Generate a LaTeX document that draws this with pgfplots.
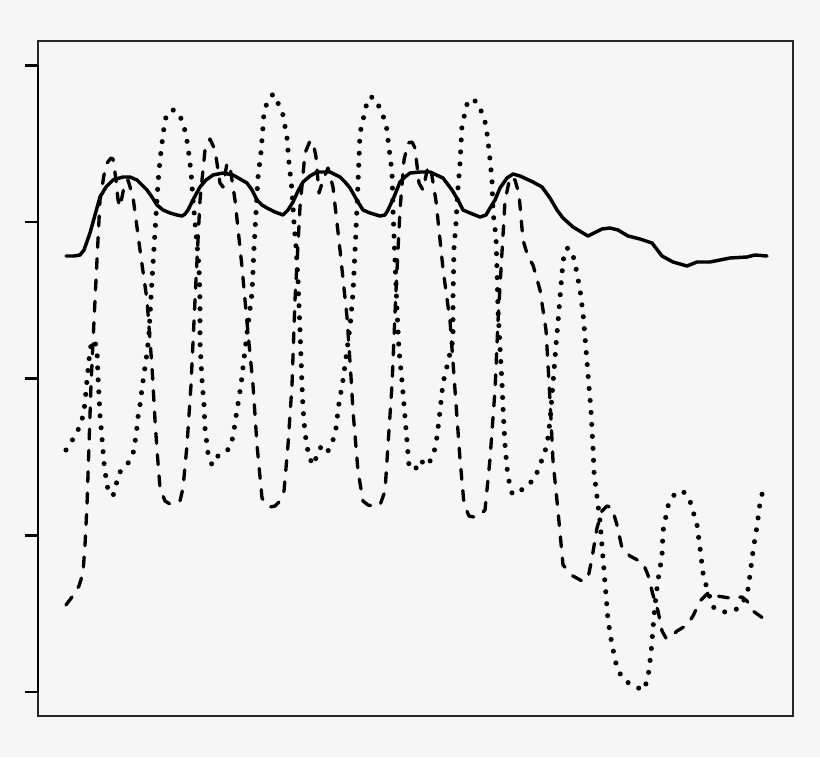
\documentclass[border=0pt]{standalone}
\usepackage{pgfplots}
\pgfplotsset{compat=1.18}
\definecolor{bgc}{gray}{0.965}

% series in picture units (x to the right, y downwards)
\pgfplotstableread{
x y
66 256
74 256
80 255
84 250
90 233
95 215
100 197
106 187
113 180
123 177
130 177
137 180
142 185
147 190
152 197
157 205
163 210
170 213
177 215
182 216
185 214
188 210
194 198
200 187
206 180
213 175
223 173
233 175
240 179
247 183
252 190
257 200
262 205
267 208
275 212
283 215
288 210
293 202
298 191
303 182
310 176
317 172
330 172
340 177
345 182
350 188
358 202
363 210
370 213
380 216
385 215
388 210
394 197
400 182
405 177
410 173
420 172
430 172
443 178
452 190
458 200
463 210
470 213
480 217
486 215
490 208
495 200
500 188
507 178
513 174
520 176
533 182
542 187
550 198
557 210
563 218
573 227
588 236
602 229
610 228
618 230
628 236
640 239
652 243
662 256
673 262
687 266
697 262
710 262
730 258
747 257
755 255
767 256
}\solid

\pgfplotstableread{
x y
66 605
72 597
79 586
83 573
85 545
87 505
89 445
91 385
95 300
100 200
104 175
107 163
111 158
113 159
116 180
118 200
120 207
123 192
125 182
128 180
133 197
140 250
147 300
152 367
155 420
157 450
160 488
165 501
170 504
175 503
180 501
183 488
187 445
191 385
195 300
200 200
205 150
210 139
215 150
218 170
220 183
223 187
227 163
230 167
235 200
242 267
248 333
253 385
257 445
262 498
266 504
270 507
275 506
279 502
284 491
288 445
292 385
295 300
300 207
305 153
310 141
313 142
316 157
319 193
323 180
328 168
333 187
340 250
347 317
351 377
353 411
358 471
363 501
368 505
373 506
380 505
385 491
388 445
392 385
396 290
400 210
404 160
408 143
412 142
415 148
419 183
423 190
428 166
431 170
436 201
443 269
450 321
455 390
460 459
464 504
469 516
474 517
480 515
485 510
490 459
495 390
498 321
502 252
505 201
510 177
515 180
519 194
523 240
528 257
533 265
540 290
546 330
550 400
553 461
558 511
563 565
573 576
582 581
588 578
592 558
597 528
602 511
607 506
612 508
617 525
622 548
630 556
643 563
648 575
653 595
658 611
662 631
666 638
670 638
677 631
687 625
693 616
700 601
708 593
717 596
730 598
742 597
747 601
753 611
767 621
}\dashed

\pgfplotstableread{
x y
66 450
73 439
79 428
83 416
85 403
87 380
89 360
91 345
93 340
95 342
97 350
98 377
100 415
102 438
104 463
107 486
110 493
113 496
116 485
119 473
127 465
133 454
136 436
138 417
140 405
143 381
147 353
149 333
152 280
155 232
158 183
160 160
163 135
165 120
168 112
173 110
178 112
183 123
186 135
188 147
191 172
193 200
196 233
199 267
200 300
200 343
202 380
204 405
205 428
208 453
212 465
218 456
225 453
231 446
234 430
237 410
241 385
245 350
249 317
252 293
254 248
256 213
258 177
261 152
263 127
264 112
267 103
273 94
278 103
283 115
287 138
289 163
292 190
294 223
296 247
298 280
300 330
302 385
303 408
305 433
309 458
314 465
317 454
322 445
328 451
333 440
336 428
339 403
343 380
347 350
350 327
353 293
356 230
358 183
360 133
363 120
368 98
373 97
377 102
386 123
389 148
392 172
393 210
395 260
397 310
399 350
402 381
405 417
407 441
409 466
412 470
416 468
420 460
427 466
433 456
436 444
439 420
443 383
448 362
453 340
453 297
454 248
456 223
458 188
460 163
462 125
465 113
468 100
473 100
477 102
482 113
486 125
489 150
492 180
493 212
496 237
497 270
498 310
500 347
502 383
503 408
505 445
507 468
509 481
512 493
518 494
525 486
534 480
538 470
543 457
547 445
550 421
553 383
556 345
559 310
561 285
563 262
565 250
568 248
572 252
575 263
580 290
583 313
585 337
587 362
589 386
591 411
593 448
594 472
597 497
600 521
602 546
604 571
606 595
608 620
612 645
617 668
623 679
633 686
644 690
648 677
651 653
653 628
655 605
658 580
662 556
663 531
668 506
673 496
678 492
683 491
690 501
697 525
700 548
703 573
706 585
710 598
714 608
725 612
737 609
747 596
750 575
753 551
757 526
760 503
763 490
}\dotted

\begin{document}
\begin{tikzpicture}
\fill[bgc] (0,0) rectangle (615pt,567.75pt);
\begin{axis}[
    at={(28.5pt,30.75pt)},
    anchor=south west,
    width=566.25pt,
    height=506.25pt,
    scale only axis,
    xmin=38, xmax=793,
    ymin=41, ymax=716,
    y dir=reverse,
    clip=false,
    xtick=\empty,
    ytick={65.3,222,378.7,535.3,692},
    yticklabels={},
    ytick pos=left,
    tick align=outside,
    major tick length=9.75pt,
    major tick style={line width=1.9pt, black},
    axis line style={line width=0.8pt, black!85},
]
\draw[line width=1.9pt] (axis cs:38,65.3) -- (axis cs:38,692);
\addplot[black, line width=2.6pt, line join=round, line cap=round] table {\solid};
\addplot[black, line width=2.5pt, line join=round, line cap=round,
    dash pattern=on 7.5pt off 8.5pt] table {\dashed};
\addplot[black, line width=3.8pt, line cap=round,
    dash pattern=on 0pt off 9pt] table {\dotted};
\end{axis}
\end{tikzpicture}
\end{document}
